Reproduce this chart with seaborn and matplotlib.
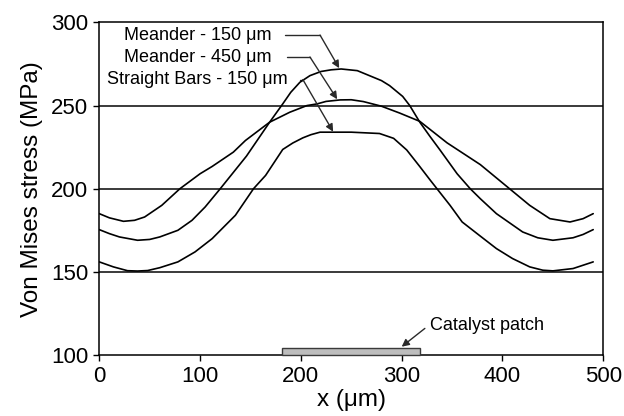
import matplotlib
matplotlib.use("Agg")
import matplotlib.pyplot as plt
from matplotlib.patches import Rectangle
import seaborn as sns
import pandas as pd

# ---- data ----
m150_x = [0, 10, 20, 38, 50, 60, 78, 92, 105, 120, 146, 169, 182, 190, 199, 209, 220,
          230, 240, 256, 272, 280, 288, 294, 301, 308, 318, 328, 338, 355, 368, 378,
          394, 420, 435, 450, 470, 480, 490]
m150_y = [175.4, 173, 171, 169, 169.5, 171, 175, 181, 189, 200, 219.6, 240, 251, 258,
          264, 268, 270.5, 271.5, 272, 271, 267, 265, 262, 259, 255.5, 250, 240, 231.5,
          223.3, 209, 200, 194, 185, 174, 170.5, 169, 170.5, 172.5, 175.4]

m450_x = [0, 10, 24, 35, 45, 62, 80, 100, 112, 133, 145, 169, 189, 206, 216, 225, 239,
          250, 262, 280, 298, 318, 345, 378, 407, 427, 447, 467, 480, 490]
m450_y = [185, 182.5, 180.4, 181, 183, 190, 200, 209, 213.4, 222, 229, 240, 246, 250,
          251, 252.5, 253.4, 253.5, 252.4, 249.6, 245.5, 240.5, 227.6, 214.5, 200, 190,
          182, 180, 182, 185]

sb_x = [0, 14, 28, 38, 48, 60, 78, 95, 112, 135, 153, 165, 182, 192, 202, 210, 219,
        250, 278, 292, 305, 318, 328, 335, 348, 360, 378, 394, 410, 427, 440, 450,
        470, 490]
sb_y = [156, 153, 150.7, 150.5, 150.8, 152.5, 156, 162, 170, 184, 200, 208, 223.6,
        227.5, 230.6, 232.5, 234, 234, 233.2, 230.3, 223.3, 213.3, 205.4, 200, 190,
        180, 171.5, 164, 158, 153, 151, 150.6, 152, 156]

series_labels = ["Meander - 150 \u03bcm", "Meander - 450 \u03bcm", "Straight Bars - 150 \u03bcm"]
grid_levels = [150, 200, 250]
patch_x = [181, 318]
patch_top = 104.5
x_ticks = [0, 100, 200, 300, 400, 500]
y_ticks = [100, 150, 200, 250, 300]

sns.set_theme(style="white")
plt.rcParams['font.family'] = ['Liberation Sans', 'DejaVu Sans']

fig = plt.figure(figsize=(6.24, 4.16), dpi=100)
ax = fig.add_axes([0.1591, 0.1466, 0.8077, 0.7995])

for lvl in grid_levels:
    ax.axhline(lvl, color="#3a3a3a", lw=1.4, zorder=1)

for xs, ys in [(m150_x, m150_y), (m450_x, m450_y), (sb_x, sb_y)]:
    df = pd.DataFrame({"x": xs, "y": ys})
    sns.lineplot(data=df, x="x", y="y", ax=ax, color="black", lw=1.2,
                 sort=False, estimator=None, zorder=3)

ax.add_patch(Rectangle((patch_x[0], 100), patch_x[1] - patch_x[0], patch_top - 100,
                       facecolor="#bdbdbd", edgecolor="#3a3a3a", lw=1.0, zorder=4,
                       clip_on=False))

ax.set_xlim(0, 500)
ax.set_ylim(100, 300)
ax.set_xticks(x_ticks)
ax.set_yticks(y_ticks)
ax.tick_params(axis="both", labelsize=16, colors="black", direction="out",
               length=4, width=1.0, pad=4, left=True, bottom=True)
ax.set_xlabel("x (\u03bcm)", fontsize=17.5, labelpad=1, color="black")
ax.set_ylabel("Von Mises stress (MPa)", fontsize=17.5, labelpad=6, color="black")
for s in ax.spines.values():
    s.set_color("black")
    s.set_linewidth(1.1)

arrow_kw = dict(arrowstyle="-|>", color="#2a2a2a", lw=1.0, mutation_scale=11,
                shrinkA=0, shrinkB=0)
txt_kw = dict(fontsize=13, ha="center", va="center", color="black")

# label 1
ax.text(97.4, 292.4, series_labels[0], **txt_kw)
ax.plot([184, 219], [292.4, 292.4], color="#2a2a2a", lw=1.0)
ax.annotate("", xy=(238, 272.5), xytext=(219, 292.4), arrowprops=arrow_kw)
# label 2
ax.text(97.4, 279.2, series_labels[1], **txt_kw)
ax.plot([186, 209], [279.2, 279.2], color="#2a2a2a", lw=1.0)
ax.annotate("", xy=(236, 253.8), xytext=(209, 279.2), arrowprops=arrow_kw)
# label 3
ax.text(97.4, 265.6, series_labels[2], **txt_kw)
ax.plot([199, 202], [265.6, 265.6], color="#2a2a2a", lw=1.0)
ax.annotate("", xy=(232, 234.3), xytext=(202, 265.6), arrowprops=arrow_kw)
# catalyst
ax.text(328, 118, "Catalyst patch", fontsize=13, ha="left", va="center", color="black")
ax.annotate("", xy=(300, 105), xytext=(323, 116), arrowprops=arrow_kw)

fig.savefig("out.png", dpi=100, facecolor="white")
